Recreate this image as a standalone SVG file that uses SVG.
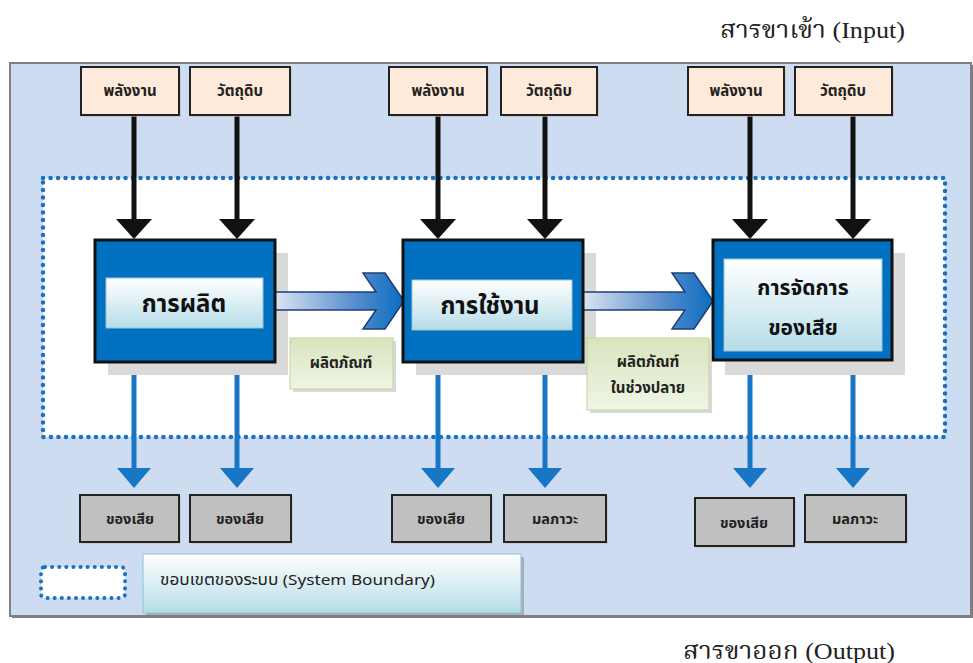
<svg xmlns="http://www.w3.org/2000/svg" width="973" height="663" viewBox="0 0 973 663">
<defs>
<linearGradient id="gInner" x1="0" y1="0" x2="0" y2="1"><stop offset="0" stop-color="#ffffff"/><stop offset="1" stop-color="#b6dde8"/></linearGradient>
<linearGradient id="gGreen" x1="0" y1="0" x2="0" y2="1"><stop offset="0" stop-color="#d7e4bc"/><stop offset="1" stop-color="#f0f5e6"/></linearGradient>
<linearGradient id="gLegend" x1="0" y1="0" x2="0" y2="1"><stop offset="0" stop-color="#ffffff"/><stop offset="1" stop-color="#b6dde8"/></linearGradient>
<linearGradient id="gArrow" x1="0" y1="0" x2="1" y2="0"><stop offset="0" stop-color="#dbe5f1"/><stop offset="0.6" stop-color="#5b8fcf"/><stop offset="1" stop-color="#0a6cc0"/></linearGradient>
</defs>
<style>
.th{font-family:"Noto Sans Thai","Tahoma","DejaVu Sans","Noto Sans",sans-serif;}
.in{fill:#fdeada;stroke:#222;stroke-width:2;}
.out{fill:#c0c0c0;stroke:#222;stroke-width:2;}
.shadow{fill:#bfbfbf;opacity:0.6;}
.lbl{font-size:15px;font-weight:bold;fill:#222;text-anchor:middle;}
.olbl{font-size:14.5px;font-weight:bold;fill:#222;text-anchor:middle;}
.proc{fill:#0070c0;stroke:#111;stroke-width:3;}
.pshadow{fill:#d9d9d9;}
.inner{fill:url(#gInner);stroke:#9cc3d6;stroke-width:1;}
.ptxt{font-size:24px;font-weight:bold;fill:#111;text-anchor:middle;}
.green{fill:url(#gGreen);stroke:#c3d69b;stroke-width:1;}
.blk{stroke:#111;stroke-width:5;fill:none;}
.bhead{fill:#111;}
.blu{stroke:#1777c4;stroke-width:5;fill:none;}
.uhead{fill:#1777c4;}
.big{fill:url(#gArrow);stroke:#1f3f73;stroke-width:1.5;}
.title{font-family:"Liberation Serif","DejaVu Serif","Noto Serif Thai",serif;font-size:24px;fill:#222;}
</style>
<rect x="0" y="0" width="973" height="663" fill="#ffffff"/>
<g id="frame">
<rect x="12" y="65" width="961" height="553" fill="#7f7f7f"/>
<rect x="10" y="63" width="961" height="553" fill="#cddcf0" stroke="#808080" stroke-width="2"/>
</g>
<g id="boundary">
<rect x="43" y="178" width="902" height="259" fill="#ffffff" stroke="#1a72c0" stroke-width="4.5" stroke-dasharray="0.1 7.4" stroke-linecap="round"/>
</g>
<g id="titles">
<text class="title" x="720" y="38" textLength="185" lengthAdjust="spacingAndGlyphs">สารขาเข้า (Input)</text>
<text class="title" x="683" y="659" textLength="212" lengthAdjust="spacingAndGlyphs">สารขาออก (Output)</text>
</g>
<g id="connectors">
<line class="blk" x1="134" y1="115" x2="134" y2="222"/><path class="bhead" d="M116,219 L152,219 L134,239 Z"/>
<line class="blk" x1="237" y1="115" x2="237" y2="222"/><path class="bhead" d="M219,219 L255,219 L237,239 Z"/>
<line class="blk" x1="438" y1="115" x2="438" y2="222"/><path class="bhead" d="M420,219 L456,219 L438,239 Z"/>
<line class="blk" x1="545" y1="115" x2="545" y2="222"/><path class="bhead" d="M527,219 L563,219 L545,239 Z"/>
<line class="blk" x1="750" y1="115" x2="750" y2="222"/><path class="bhead" d="M732,219 L768,219 L750,239 Z"/>
<line class="blk" x1="853" y1="115" x2="853" y2="222"/><path class="bhead" d="M835,219 L871,219 L853,239 Z"/>
<line class="blu" x1="134" y1="362" x2="134" y2="470"/><path class="uhead" d="M117,468 L151,468 L134,488 Z"/>
<line class="blu" x1="237" y1="362" x2="237" y2="470"/><path class="uhead" d="M220,468 L254,468 L237,488 Z"/>
<line class="blu" x1="438" y1="362" x2="438" y2="470"/><path class="uhead" d="M421,468 L455,468 L438,488 Z"/>
<line class="blu" x1="545" y1="362" x2="545" y2="470"/><path class="uhead" d="M528,468 L562,468 L545,488 Z"/>
<line class="blu" x1="750" y1="360" x2="750" y2="470"/><path class="uhead" d="M733,468 L767,468 L750,488 Z"/>
<line class="blu" x1="853" y1="360" x2="853" y2="470"/><path class="uhead" d="M836,468 L870,468 L853,488 Z"/>
</g>
<rect class="pshadow" x="108" y="253" width="180" height="122"/>
<rect class="pshadow" x="416" y="253" width="180" height="122"/>
<rect class="pshadow" x="725" y="253" width="180" height="122"/>
<g id="flow-arrows">
<path class="big" d="M275,292 L376,292 L363,273 L385,273 L404,301 L385,329 L363,329 L376,310 L275,310 Z"/>
<path class="big" d="M583,292 L685,292 L672,273 L694,273 L713,301 L694,329 L672,329 L685,310 L583,310 Z"/>
</g>
<g id="in1"><rect class="shadow" x="83" y="69" width="98" height="48"/><rect class="in" x="81" y="67" width="98" height="48"/><text class="th lbl" x="130" y="96">พลังงาน</text></g>
<g id="in2"><rect class="shadow" x="192" y="69" width="100" height="48"/><rect class="in" x="190" y="67" width="100" height="48"/><text class="th lbl" x="240" y="96">วัตถุดิบ</text></g>
<g id="in3"><rect class="shadow" x="391" y="69" width="98" height="48"/><rect class="in" x="389" y="67" width="98" height="48"/><text class="th lbl" x="438" y="96">พลังงาน</text></g>
<g id="in4"><rect class="shadow" x="503" y="69" width="96" height="48"/><rect class="in" x="501" y="67" width="96" height="48"/><text class="th lbl" x="549" y="96">วัตถุดิบ</text></g>
<g id="in5"><rect class="shadow" x="690" y="69" width="96" height="48"/><rect class="in" x="688" y="67" width="96" height="48"/><text class="th lbl" x="736" y="96">พลังงาน</text></g>
<g id="in6"><rect class="shadow" x="797" y="69" width="97" height="48"/><rect class="in" x="795" y="67" width="97" height="48"/><text class="th lbl" x="843" y="96">วัตถุดิบ</text></g>
<g id="production"><rect class="proc" x="95" y="240" width="180" height="122"/><rect class="inner" x="106" y="278" width="157" height="50"/><text class="th ptxt" x="184" y="312">การผลิต</text></g>
<g id="usage"><rect class="proc" x="403" y="240" width="180" height="122"/><rect class="inner" x="412" y="280" width="160" height="50"/><text class="th ptxt" x="490" y="314">การใช้งาน</text></g>
<g id="waste-mgmt"><rect class="proc" x="713" y="240" width="179" height="120"/><rect class="inner" x="724" y="259" width="158" height="92"/><text class="th ptxt" x="803" y="295" style="font-size:21px">การจัดการ</text><text class="th ptxt" x="803" y="335" style="font-size:21px">ของเสีย</text></g>
<g id="product"><rect class="shadow" x="293" y="341" width="103" height="51"/><rect class="green" x="290" y="338" width="103" height="51"/><text class="th lbl" x="341" y="368">ผลิตภัณฑ์</text></g>
<g id="eol-product"><rect class="shadow" x="590" y="341" width="122" height="72"/><rect class="green" x="587" y="338" width="122" height="72"/><text class="th lbl" x="648" y="367">ผลิตภัณฑ์</text><text class="th lbl" x="648" y="393">ในช่วงปลาย</text></g>
<g id="out1"><rect class="shadow" x="82" y="497" width="99" height="47"/><rect class="out" x="80" y="495" width="99" height="47"/><text class="th olbl" x="130" y="524">ของเสีย</text></g>
<g id="out2"><rect class="shadow" x="192" y="497" width="101" height="47"/><rect class="out" x="190" y="495" width="101" height="47"/><text class="th olbl" x="240" y="524">ของเสีย</text></g>
<g id="out3"><rect class="shadow" x="394" y="497" width="99" height="47"/><rect class="out" x="392" y="495" width="99" height="47"/><text class="th olbl" x="441" y="524">ของเสีย</text></g>
<g id="out4"><rect class="shadow" x="506" y="497" width="102" height="47"/><rect class="out" x="504" y="495" width="102" height="47"/><text class="th olbl" x="555" y="524">มลภาวะ</text></g>
<g id="out5"><rect class="shadow" x="697" y="500" width="99" height="48"/><rect class="out" x="695" y="498" width="99" height="48"/><text class="th olbl" x="744" y="528">ของเสีย</text></g>
<g id="out6"><rect class="shadow" x="807" y="497" width="101" height="47"/><rect class="out" x="805" y="495" width="101" height="47"/><text class="th olbl" x="855" y="524">มลภาวะ</text></g>
<g id="legend">
<rect x="41" y="567" width="84" height="31" rx="4" fill="#ffffff" stroke="#1a72c0" stroke-width="4" stroke-dasharray="0.1 7" stroke-linecap="round"/>
<rect x="146" y="557" width="378" height="59" fill="#7f7f7f" opacity="0.5"/>
<rect x="143" y="554" width="378" height="59" fill="url(#gLegend)" stroke="#8cc3d6" stroke-width="1"/>
<text class="th" x="160" y="585" font-size="15" fill="#222" textLength="275" lengthAdjust="spacingAndGlyphs">ขอบเขตของระบบ (System Boundary)</text>
</g>
</svg>
